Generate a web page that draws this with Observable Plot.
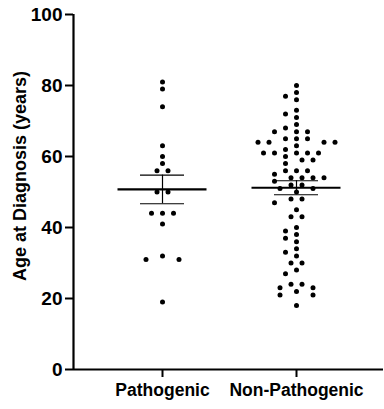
<!DOCTYPE html>
<html><head><meta charset="utf-8">
<script src="https://cdn.jsdelivr.net/npm/d3@7"></script>
<script src="https://cdn.jsdelivr.net/npm/@observablehq/plot@0.6"></script>
<style>body{margin:0;background:#fff}</style>
</head><body><div id="chart"></div>
<script>
const groups = ["Pathogenic", "Non-Pathogenic"];
const pathogenic = [81,79,74,63,60,58,56,56,50,50,44,44,44,41,32,31,31,19];
const nonPathogenic = [80,78,77,76,73,72,71,69,68,67,67,67,65,65,65,64,64,64,64,63,62,
  61,61,61,61,61,60,59,59,58,56,56,56,55,54,54,54,54,53,52,52,51,51,50,48,48,47,45,43,43,
  40,39,38,37,36,34,33,32,30,30,28,27,24,24,23,23,22,21,21,18];
const yTicks = [0,20,40,60,80,100];
const yLabel = "Age at Diagnosis (years)";

const font = "'Liberation Sans', Arial, Helvetica, sans-serif";
const pxPerUnit = 134;
const colStep = 11 / pxPerUnit;
const xDomain = [1 - 89/pxPerUnit, 2 + 87/pxPerUnit];

function swarm(values, center, group) {
  const placed = [];
  const sorted = [...values].sort((a,b)=>b-a);
  const rows = d3.groups(sorted, d=>d);
  for (const [v, arr] of rows) {
    const n = arr.length;
    const slots = [];
    if (n % 2) { slots.push(0); for (let k=1;k<20;k++) slots.push(-k, k); }
    else { for (let k=0;k<20;k++) slots.push(-(k+0.5), k+0.5); }
    for (let i = 0; i < n; i++) {
      for (const s of slots) {
        if (placed.some(p => Math.abs(p.s - s) < 1 && Math.abs(p.v - v) < 1.5)) continue;
        placed.push({s, v}); break;
      }
    }
  }
  return placed.map(p => ({x: center + p.s*colStep, y: p.v, group}));
}

const series = [pathogenic, nonPathogenic];
const dots = series.flatMap((vals, i) => swarm(vals, i+1, groups[i]));
const stats = series.map((vals, i) => {
  const mean = d3.mean(vals);
  const sem = d3.deviation(vals) / Math.sqrt(vals.length);
  return {c: i+1, mean, lo: mean - sem, hi: mean + sem};
});
const meanHalf = 44.5 / pxPerUnit, capHalf = 22 / pxPerUnit;

const chart = Plot.plot({
  width: 384, height: 409,
  marginLeft: 73, marginRight: 1, marginTop: 14, marginBottom: 40,
  style: {fontFamily: font, background: "#fff", color: "#000"},
  x: {domain: xDomain},
  y: {domain: [0, 100]},
  marks: [
    Plot.dot(dots, {x: "x", y: "y", r: 2.5, fill: "#000"}),
    Plot.ruleY(stats, {y: "mean", x1: d => d.c - meanHalf, x2: d => d.c + meanHalf, strokeWidth: 2.2, stroke: "#000"}),
    Plot.ruleX(stats, {x: "c", y1: "lo", y2: "hi", strokeWidth: 1.2, stroke: "#000"}),
    Plot.ruleY(stats, {y: "hi", x1: d => d.c - capHalf, x2: d => d.c + capHalf, strokeWidth: 1.2, stroke: "#000"}),
    Plot.ruleY(stats, {y: "lo", x1: d => d.c - capHalf, x2: d => d.c + capHalf, strokeWidth: 1.2, stroke: "#000"}),
    Plot.axisY({ticks: yTicks, tickSize: 8, tickPadding: 3, fontSize: 19, fontWeight: "bold", strokeWidth: 2, label: null}),
    Plot.axisX({ticks: [1, 2], tickFormat: d => groups[d-1], tickSize: 8, tickPadding: 6, fontSize: 17.5, fontWeight: "bold", strokeWidth: 2, label: null}),
    Plot.ruleX([xDomain[0]], {strokeWidth: 2.2, stroke: "#000"}),
    Plot.ruleY([0], {strokeWidth: 2.2, stroke: "#000"}),
    Plot.text([yLabel], {frameAnchor: "left", textAnchor: "middle", rotate: -90, dx: -53, dy: -16, fontSize: 18, fontWeight: "bold", fill: "#000"})
  ]
});
document.getElementById("chart").appendChild(chart);
</script>
</body></html>
